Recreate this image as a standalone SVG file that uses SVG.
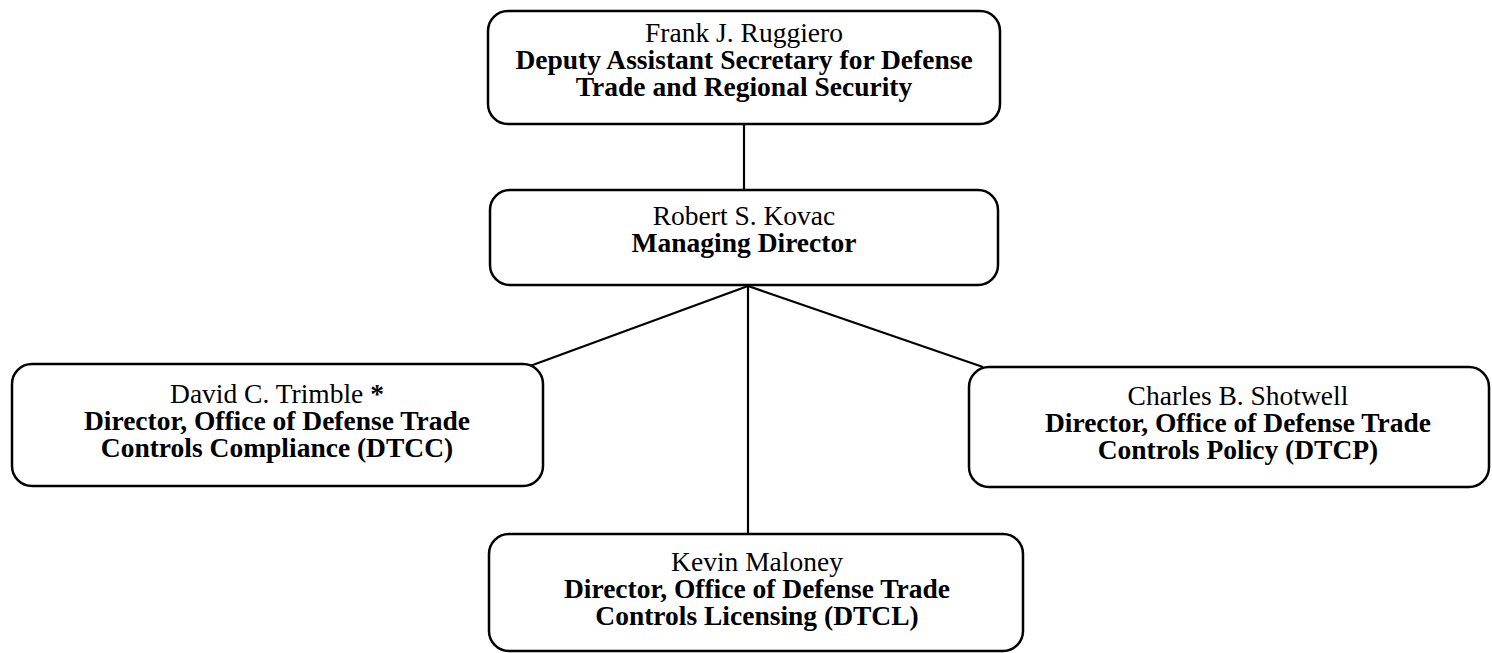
<svg xmlns="http://www.w3.org/2000/svg" width="1492" height="653" viewBox="0 0 1492 653">
<style>
.box{fill:#fff;stroke:#000;stroke-width:2.5}
.conn{stroke:#000;stroke-width:2.2;fill:none}
text{font-family:"Liberation Serif","Times New Roman",serif;font-size:27.5px;fill:#000;text-anchor:middle}
.b{font-weight:bold}
</style>
<rect width="1492" height="653" fill="#fff"/>
<g id="connectors">
<line class="conn" x1="744" y1="124" x2="744" y2="190"/>
<line class="conn" x1="748" y1="286" x2="530" y2="366"/>
<line class="conn" x1="748" y1="286" x2="983" y2="367"/>
<line class="conn" x1="748" y1="286" x2="748" y2="534"/>
</g>
<g id="ruggiero">
<rect class="box" x="488" y="11" width="512" height="113" rx="20"/>
<text x="744" y="42">Frank J. Ruggiero</text>
<text class="b" x="744" y="69">Deputy Assistant Secretary for Defense</text>
<text class="b" x="744" y="96">Trade and Regional Security</text>
</g>
<g id="kovac">
<rect class="box" x="490" y="190" width="508" height="95" rx="20"/>
<text x="744" y="225">Robert S. Kovac</text>
<text class="b" x="744" y="252">Managing Director</text>
</g>
<g id="trimble">
<rect class="box" x="12" y="364" width="531" height="122" rx="20"/>
<text x="277" y="403">David C. Trimble <tspan class="b">*</tspan></text>
<text class="b" x="277" y="430">Director, Office of Defense Trade</text>
<text class="b" x="277" y="457">Controls Compliance (DTCC)</text>
</g>
<g id="shotwell">
<rect class="box" x="969" y="367" width="520" height="120" rx="20"/>
<text x="1238" y="405">Charles B. Shotwell</text>
<text class="b" x="1238" y="432">Director, Office of Defense Trade</text>
<text class="b" x="1238" y="459">Controls Policy (DTCP)</text>
</g>
<g id="maloney">
<rect class="box" x="489" y="534" width="534" height="117" rx="20"/>
<text x="757" y="571">Kevin Maloney</text>
<text class="b" x="757" y="598">Director, Office of Defense Trade</text>
<text class="b" x="757" y="625">Controls Licensing (DTCL)</text>
</g>
</svg>
